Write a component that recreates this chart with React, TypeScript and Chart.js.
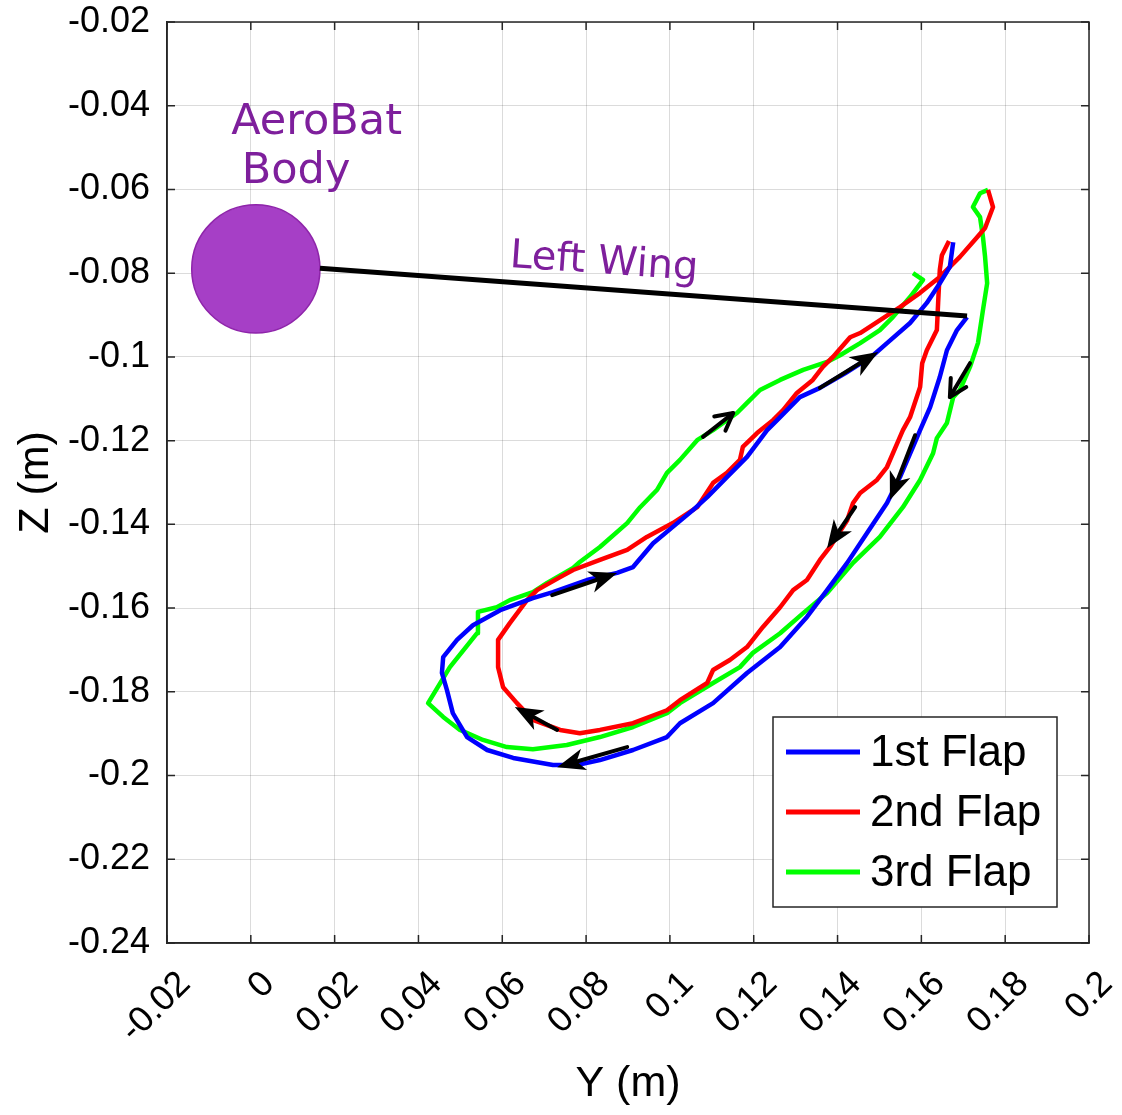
import React, { useEffect, useRef } from "react";
import { Chart, registerables } from "chart.js";

Chart.register(...registerables);

// ---------- data (metres) ----------
const flapLabels = ["1st Flap", "2nd Flap", "3rd Flap"];
const flapColors = ["#0000FF", "#FF0000", "#00FF00"];

const flap1Y = [0.1709, 0.1685, 0.1661, 0.1644, 0.1621, 0.1597, 0.158, 0.1549, 0.1518, 0.147, 0.1423, 0.1375, 0.1327, 0.1263, 0.1184, 0.1103, 0.1024, 0.0993, 0.0912, 0.0833, 0.0778, 0.0721, 0.0626, 0.0564, 0.0516, 0.0482, 0.0468, 0.0456, 0.0459, 0.0492, 0.053, 0.0595, 0.0673, 0.0721, 0.0802, 0.0874, 0.0912, 0.096, 0.1007, 0.1055, 0.1089, 0.1136, 0.1184, 0.1232, 0.1263, 0.131, 0.1358, 0.1418, 0.1485, 0.1518, 0.1573, 0.1613, 0.1644, 0.1668, 0.1676];
const flap1Z = [-0.0905, -0.0936, -0.0984, -0.1048, -0.112, -0.1175, -0.1215, -0.1287, -0.1349, -0.1421, -0.1492, -0.1557, -0.1621, -0.1693, -0.1755, -0.1827, -0.1875, -0.1908, -0.1939, -0.1963, -0.1975, -0.1975, -0.1958, -0.1939, -0.1908, -0.1851, -0.1796, -0.1755, -0.1717, -0.1676, -0.1641, -0.1605, -0.1576, -0.1562, -0.1533, -0.1516, -0.1502, -0.1445, -0.1406, -0.1366, -0.1335, -0.1287, -0.1239, -0.1175, -0.1144, -0.1096, -0.1074, -0.1039, -0.0996, -0.0967, -0.0919, -0.0871, -0.0824, -0.0785, -0.0726];

const flap2Y = [0.1666, 0.1649, 0.1644, 0.164, 0.1637, 0.1613, 0.1602, 0.1597, 0.1573, 0.1556, 0.1549, 0.1518, 0.1494, 0.1454, 0.1437, 0.1423, 0.1382, 0.1358, 0.1327, 0.1294, 0.1263, 0.1222, 0.1184, 0.1143, 0.1103, 0.1089, 0.1024, 0.0993, 0.0912, 0.0833, 0.0785, 0.0738, 0.0673, 0.0635, 0.0602, 0.059, 0.059, 0.0618, 0.0659, 0.0683, 0.0738, 0.0769, 0.0833, 0.0898, 0.0945, 0.1007, 0.1065, 0.1103, 0.1136, 0.1167, 0.1174, 0.1208, 0.1246, 0.127, 0.1303, 0.1341, 0.1365, 0.1389, 0.143, 0.1454, 0.1549, 0.1597, 0.1644, 0.1692, 0.1733, 0.1752, 0.1771, 0.1759];
const flap2Z = [-0.0723, -0.0757, -0.0792, -0.0871, -0.0936, -0.0984, -0.1015, -0.1072, -0.1144, -0.1175, -0.1191, -0.1263, -0.1294, -0.1325, -0.1349, -0.139, -0.1454, -0.1485, -0.1533, -0.1557, -0.1598, -0.1645, -0.1693, -0.1724, -0.1748, -0.1779, -0.182, -0.1844, -0.1875, -0.1891, -0.1899, -0.1891, -0.1867, -0.1827, -0.1789, -0.1741, -0.1676, -0.1636, -0.1581, -0.1557, -0.1526, -0.1509, -0.1485, -0.1461, -0.143, -0.1397, -0.1359, -0.1301, -0.1277, -0.1246, -0.1215, -0.1182, -0.1151, -0.1127, -0.1086, -0.1055, -0.1024, -0.1, -0.0953, -0.0943, -0.0881, -0.0847, -0.0809, -0.0761, -0.0714, -0.0692, -0.0642, -0.0601];

const flap3Y = [0.1759, 0.174, 0.1723, 0.174, 0.1747, 0.1752, 0.1757, 0.1747, 0.1735, 0.1716, 0.1692, 0.1676, 0.1661, 0.1637, 0.1628, 0.1597, 0.1556, 0.1501, 0.1437, 0.1375, 0.1318, 0.1263, 0.1198, 0.1167, 0.1103, 0.1024, 0.0993, 0.0912, 0.0833, 0.0754, 0.0673, 0.0611, 0.0554, 0.0499, 0.0459, 0.0423, 0.0475, 0.054, 0.0542, 0.0587, 0.0618, 0.0673, 0.0707, 0.0769, 0.0785, 0.0833, 0.0898, 0.0929, 0.0969, 0.0993, 0.1024, 0.1065, 0.1103, 0.116, 0.1184, 0.1215, 0.1263, 0.1318, 0.1375, 0.1406, 0.1454, 0.1501, 0.1532, 0.1573, 0.1604, 0.158];
const flap3Z = [-0.0601, -0.0609, -0.0642, -0.0666, -0.0714, -0.0761, -0.0824, -0.0888, -0.0967, -0.1024, -0.1079, -0.1096, -0.1158, -0.1194, -0.123, -0.1294, -0.1359, -0.143, -0.1492, -0.1564, -0.1612, -0.166, -0.1707, -0.1741, -0.1779, -0.1827, -0.1851, -0.1884, -0.1908, -0.1927, -0.1937, -0.1932, -0.1915, -0.1891, -0.186, -0.1827, -0.1741, -0.166, -0.1609, -0.1598, -0.1581, -0.1562, -0.154, -0.1504, -0.149, -0.1454, -0.1397, -0.1359, -0.1318, -0.1277, -0.1246, -0.1199, -0.1175, -0.1134, -0.111, -0.1079, -0.1055, -0.1031, -0.1012, -0.0996, -0.0967, -0.0936, -0.0905, -0.0857, -0.0816, -0.08];

// wing line (body edge -> wing tip)
const wingY = [0.0165, 0.1709];
const wingZ = [-0.0788, -0.0902];

// body circle
const bodyCenterY = 0.0012;
const bodyCenterZ = -0.079;
const bodyRadiusY = 0.0153;

// direction arrows
const arrowFromY = [0.1716, 0.1358, 0.1079, 0.0719, 0.1585, 0.1442, 0.0731, 0.0898];
const arrowFromZ = [-0.1015, -0.1074, -0.1191, -0.1569, -0.1187, -0.1359, -0.1891, -0.1932];
const arrowToY = [0.1668, 0.1497, 0.1151, 0.0874, 0.1525, 0.1375, 0.063, 0.0731];
const arrowToZ = [-0.1096, -0.0988, -0.1134, -0.1516, -0.1342, -0.1457, -0.1836, -0.198];
const arrowOpenHead = [true, false, true, false, false, false, false, false];

// text annotations
const noteTexts = ["AeroBat", "Body", "Left Wing"];
const noteY = [0.0157, 0.0108, 0.0843];
const noteZ = [-0.0441, -0.0558, -0.0776];
const noteAngleDeg = [0, 0, 4];

// axes
const xTicks = [-0.02, 0, 0.02, 0.04, 0.06, 0.08, 0.1, 0.12, 0.14, 0.16, 0.18, 0.2];
const yTicks = [-0.24, -0.22, -0.2, -0.18, -0.16, -0.14, -0.12, -0.1, -0.08, -0.06, -0.04, -0.02];
const xTitle = "Y (m)";
const yTitle = "Z (m)";

const W = 1122;
const H = 1115;
const FONT = "'Liberation Sans', Arial, Helvetica, sans-serif";
const PURPLE_TEXT = "#7E1F9C";

const fmt = (v: number) => {
  const r = Math.round(v * 100) / 100;
  return r === 0 ? "0" : String(r);
};

const zip = (a: number[], b: number[]) => a.map((v, i) => ({ x: v, y: b[i] }));

function drawArrow(ctx: CanvasRenderingContext2D, x1: number, y1: number, x2: number, y2: number, open: boolean) {
  const ang = Math.atan2(y2 - y1, x2 - x1);
  const c = Math.cos(ang);
  const s = Math.sin(ang);
  ctx.save();
  ctx.strokeStyle = "#000";
  ctx.fillStyle = "#000";
  ctx.lineCap = "round";
  ctx.lineJoin = "round";
  ctx.lineWidth = 4;
  if (open) {
    const hl = 17;
    const hw = 9;
    ctx.beginPath();
    ctx.moveTo(x1, y1);
    ctx.lineTo(x2, y2);
    ctx.stroke();
    ctx.beginPath();
    ctx.moveTo(x2 - hl * c - hw * s, y2 - hl * s + hw * c);
    ctx.lineTo(x2, y2);
    ctx.lineTo(x2 - hl * c + hw * s, y2 - hl * s - hw * c);
    ctx.stroke();
  } else {
    const hl = 28;
    const hw = 11;
    ctx.beginPath();
    ctx.moveTo(x1, y1);
    ctx.lineTo(x2 - hl * 0.7 * c, y2 - hl * 0.7 * s);
    ctx.stroke();
    ctx.beginPath();
    ctx.moveTo(x2, y2);
    ctx.lineTo(x2 - hl * c - hw * s, y2 - hl * s + hw * c);
    ctx.lineTo(x2 - hl * 0.72 * c, y2 - hl * 0.72 * s);
    ctx.lineTo(x2 - hl * c + hw * s, y2 - hl * s - hw * c);
    ctx.closePath();
    ctx.fill();
  }
  ctx.restore();
}

const decorPlugin = {
  id: "decor",
  beforeDatasetsDraw(chart: any) {
    const { ctx, scales } = chart;
    const xs = scales.x;
    const ys = scales.y;
    const cx = xs.getPixelForValue(bodyCenterY);
    const cy = ys.getPixelForValue(bodyCenterZ);
    const r = xs.getPixelForValue(bodyCenterY + bodyRadiusY) - cx;
    ctx.save();
    ctx.beginPath();
    ctx.arc(cx, cy, r, 0, Math.PI * 2);
    ctx.fillStyle = "#A63FC6";
    ctx.fill();
    ctx.lineWidth = 1.5;
    ctx.strokeStyle = "#8E24AA";
    ctx.stroke();
    ctx.restore();
  },
  afterDatasetsDraw(chart: any) {
    const { ctx, scales, chartArea: ca } = chart;
    const xs = scales.x;
    const ys = scales.y;

    arrowFromY.forEach((_, i) => {
      drawArrow(
        ctx,
        xs.getPixelForValue(arrowFromY[i]),
        ys.getPixelForValue(arrowFromZ[i]),
        xs.getPixelForValue(arrowToY[i]),
        ys.getPixelForValue(arrowToZ[i]),
        arrowOpenHead[i]
      );
    });

    noteTexts.forEach((t, i) => {
      ctx.save();
      ctx.translate(xs.getPixelForValue(noteY[i]), ys.getPixelForValue(noteZ[i]));
      ctx.rotate((noteAngleDeg[i] * Math.PI) / 180);
      ctx.font = `${i < 2 ? 43 : 40}px 'DejaVu Sans', Verdana, sans-serif`;
      ctx.fillStyle = PURPLE_TEXT;
      ctx.textAlign = "center";
      ctx.textBaseline = "middle";
      ctx.fillText(t, 0, 0);
      ctx.restore();
    });

    ctx.save();
    ctx.strokeStyle = "#262626";
    ctx.lineWidth = 1.5;
    ctx.strokeRect(ca.left, ca.top, ca.right - ca.left, ca.bottom - ca.top);
    const tl = 8;
    ctx.beginPath();
    xTicks.forEach((v) => {
      const px = xs.getPixelForValue(v);
      ctx.moveTo(px, ca.bottom);
      ctx.lineTo(px, ca.bottom - tl);
      ctx.moveTo(px, ca.top);
      ctx.lineTo(px, ca.top + tl);
    });
    yTicks.forEach((v) => {
      const py = ys.getPixelForValue(v);
      ctx.moveTo(ca.left, py);
      ctx.lineTo(ca.left + tl, py);
      ctx.moveTo(ca.right, py);
      ctx.lineTo(ca.right - tl, py);
    });
    ctx.stroke();
    ctx.restore();

    const boxW = 284;
    const boxH = 190;
    const boxR = ca.right - 32;
    const boxB = ca.bottom - 36;
    const boxL = boxR - boxW;
    const boxT = boxB - boxH;
    ctx.save();
    ctx.fillStyle = "#FFFFFF";
    ctx.fillRect(boxL, boxT, boxW, boxH);
    ctx.strokeStyle = "#262626";
    ctx.lineWidth = 1.5;
    ctx.strokeRect(boxL, boxT, boxW, boxH);
    const items = chart.data.datasets.filter((d: any) => flapLabels.includes(d.label));
    items.forEach((d: any, i: number) => {
      const yy = boxT + 35 + i * 60;
      ctx.beginPath();
      ctx.strokeStyle = d.borderColor;
      ctx.lineWidth = 5;
      ctx.moveTo(boxL + 13, yy);
      ctx.lineTo(boxL + 87, yy);
      ctx.stroke();
      ctx.fillStyle = "#000";
      ctx.font = `44px ${FONT}`;
      ctx.textAlign = "left";
      ctx.textBaseline = "middle";
      ctx.fillText(d.label, boxL + 97, yy + 2);
    });
    ctx.restore();
  },
};

export default function App() {
  const canvasRef = useRef<HTMLCanvasElement | null>(null);

  useEffect(() => {
    document.body.style.margin = "0";
    const canvas = canvasRef.current;
    if (!canvas) return;
    const flapYs = [flap1Y, flap2Y, flap3Y];
    const flapZs = [flap1Z, flap2Z, flap3Z];
    const datasets: any[] = [
      {
        label: "wing",
        data: zip(wingY, wingZ),
        borderColor: "#000000",
        borderWidth: 5,
        showLine: true,
        pointRadius: 0,
        fill: false,
      },
      ...flapLabels.map((lab, i) => ({
        label: lab,
        data: zip(flapYs[i], flapZs[i]),
        borderColor: flapColors[i],
        backgroundColor: flapColors[i],
        borderWidth: 4.5,
        showLine: true,
        pointRadius: 0,
        tension: 0,
        fill: false,
        borderJoinStyle: "round",
      })),
    ];

    const chart = new Chart(canvas, {
      type: "scatter",
      data: { datasets },
      options: {
        responsive: false,
        animation: false,
        devicePixelRatio: 1,
        layout: { padding: { left: 0, right: 33, top: 22, bottom: 0 } },
        plugins: { legend: { display: false }, tooltip: { enabled: false } },
        scales: {
          x: {
            type: "linear",
            min: -0.02,
            max: 0.2,
            afterBuildTicks: (s: any) => {
              s.ticks = xTicks.map((v) => ({ value: v }));
            },
            afterFit: (s: any) => {
              s.height = 172;
              s.paddingLeft = 0;
              s.paddingRight = 0;
            },
            grid: { color: "rgba(0,0,0,0.14)", lineWidth: 1, drawTicks: false },
            border: { display: true, color: "#262626", width: 1.5 },
            ticks: {
              autoSkip: false,
              minRotation: 45,
              maxRotation: 45,
              padding: 20,
              labelOffset: 18,
              color: "#000",
              font: { family: FONT, size: 36 },
              callback: (v: any) => fmt(Number(v)),
            },
            title: {
              display: true,
              text: xTitle,
              color: "#000",
              font: { family: FONT, size: 43 },
              padding: { top: 0, bottom: 5 },
            },
          },
          y: {
            type: "linear",
            min: -0.24,
            max: -0.02,
            afterBuildTicks: (s: any) => {
              s.ticks = yTicks.map((v) => ({ value: v }));
            },
            afterFit: (s: any) => {
              s.width = 167;
              s.paddingTop = 0;
              s.paddingBottom = 0;
            },
            grid: { color: "rgba(0,0,0,0.14)", lineWidth: 1, drawTicks: false },
            border: { display: true, color: "#262626", width: 1.5 },
            ticks: {
              autoSkip: false,
              padding: 17,
              color: "#000",
              font: { family: FONT, size: 36 },
              callback: (v: any) => fmt(Number(v)),
            },
            title: {
              display: true,
              text: yTitle,
              color: "#000",
              font: { family: FONT, size: 43 },
              padding: { top: 10, bottom: 0 },
            },
          },
        },
      },
      plugins: [decorPlugin],
    } as any);

    return () => chart.destroy();
  }, []);

  return (
    <div style={{ position: "absolute", left: 0, top: 0, width: W, height: H, background: "#fff" }}>
      <canvas ref={canvasRef} width={W} height={H} style={{ width: W, height: H, display: "block" }} />
    </div>
  );
}
